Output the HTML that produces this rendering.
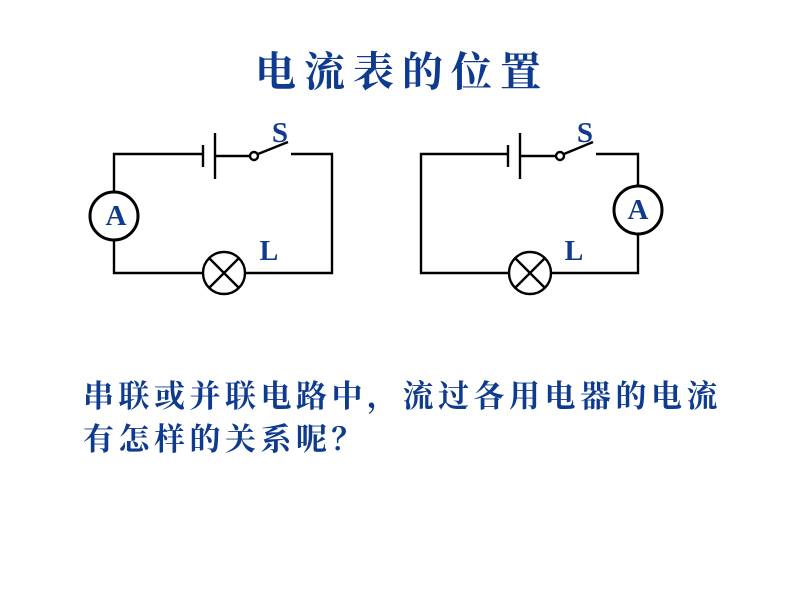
<!DOCTYPE html>
<html><head><meta charset="utf-8">
<style>
html,body{margin:0;padding:0;background:#fff;}
svg{display:block;}
.cjk{font-family:"Liberation Serif","Noto Serif CJK SC","Noto Sans CJK SC",serif;fill:#0f3b8f;font-weight:bold;}
.lbl{font-family:"Liberation Serif",serif;font-weight:bold;fill:#0f3b8f;}
</style></head>
<body>
<svg width="800" height="600" viewBox="0 0 800 600" xmlns="http://www.w3.org/2000/svg">
<rect width="800" height="600" fill="#fff"/>
<text class="cjk" x="255 304 353 402 451 500" y="86" font-size="41">电流表的位置</text>

<g stroke="#000" stroke-width="2.4" fill="none">
  <!-- Left circuit -->
  <polyline points="203,154 114,154 114,192"/>
  <line x1="203" y1="145" x2="203" y2="167"/>
  <line x1="215" y1="133" x2="215" y2="179"/>
  <line x1="215" y1="156" x2="250" y2="156"/>
  <circle cx="254" cy="156" r="4"/>
  <line x1="258" y1="154" x2="288" y2="142"/>
  <polyline points="291,154 332,154 332,273 246,273"/>
  <circle cx="114" cy="216" r="24" stroke-width="3"/>
  <polyline points="114,240 114,273 202,273"/>
  <circle cx="224" cy="273" r="21"/>
  <line x1="209" y1="258" x2="239" y2="288"/>
  <line x1="239" y1="258" x2="209" y2="288"/>

  <!-- Right circuit -->
  <polyline points="508,154 421,154 421,273 509,273"/>
  <line x1="508" y1="145" x2="508" y2="167"/>
  <line x1="520" y1="133" x2="520" y2="179"/>
  <line x1="520" y1="156" x2="556" y2="156"/>
  <circle cx="560" cy="156" r="4"/>
  <line x1="564" y1="154" x2="593" y2="142"/>
  <polyline points="596,154 638,154 638,186"/>
  <circle cx="638" cy="210" r="24" stroke-width="3"/>
  <polyline points="638,234 638,273 552,273"/>
  <circle cx="530" cy="273" r="21"/>
  <line x1="515" y1="258" x2="545" y2="288"/>
  <line x1="545" y1="258" x2="515" y2="288"/>
</g>

<text class="lbl" x="280" y="142" font-size="29" text-anchor="middle">S</text>
<text class="lbl" x="116" y="225" font-size="29" text-anchor="middle">A</text>
<text class="lbl" x="269" y="260" font-size="28" text-anchor="middle">L</text>

<text class="lbl" x="585" y="142" font-size="29" text-anchor="middle">S</text>
<text class="lbl" x="638" y="219" font-size="29" text-anchor="middle">A</text>
<text class="lbl" x="574" y="260" font-size="28" text-anchor="middle">L</text>

<text class="cjk" x="83 118.5 154 189.5 225 260.5 296 331.5 367 402.5 438 473.5 509 544.5 580 615.5 651 686.5" y="407" font-size="31">串联或并联电路中，流过各用电器的电流</text>
<text class="cjk" x="83 118.5 154 189.5 225 260.5 296 331.5" y="450" font-size="31">有怎样的关系呢？</text>
</svg>
</body></html>
